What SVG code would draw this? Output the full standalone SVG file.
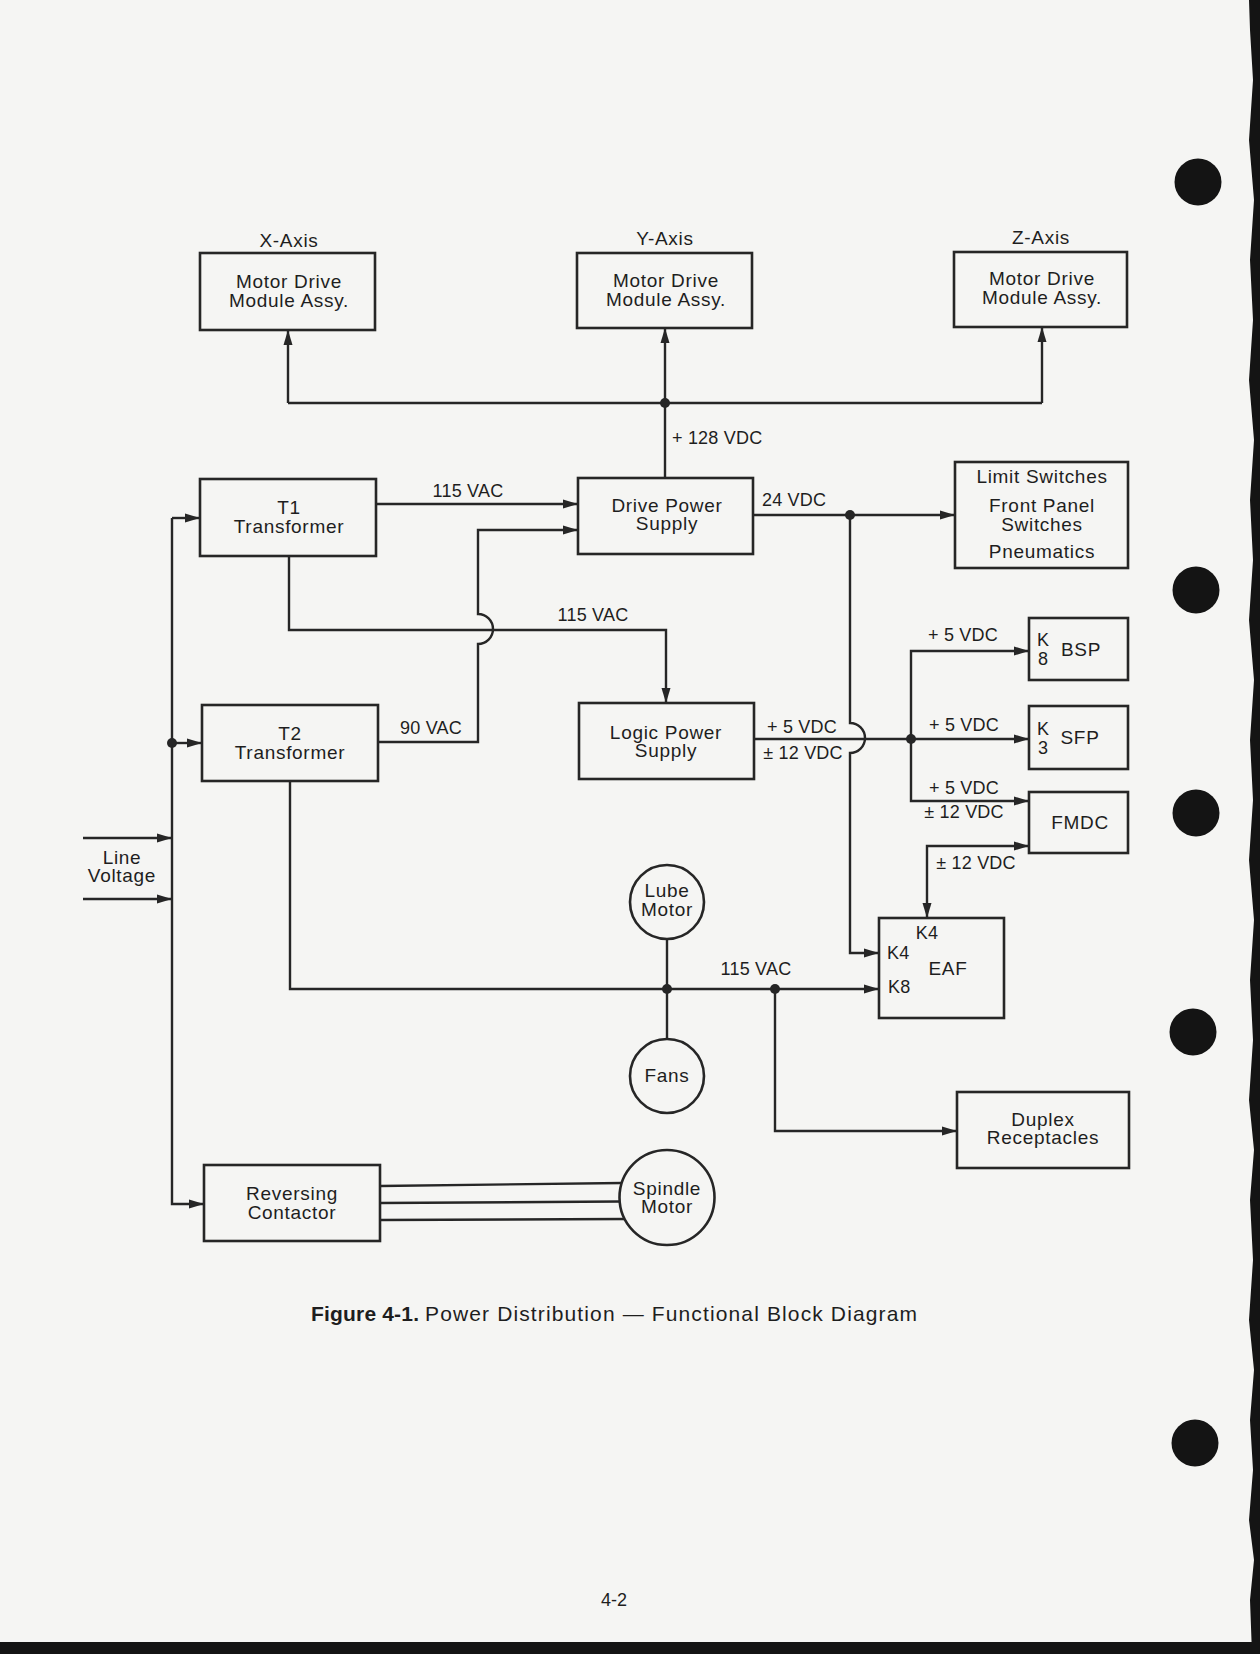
<svg xmlns="http://www.w3.org/2000/svg" width="1260" height="1654" viewBox="0 0 1260 1654">
<style>
.box{fill:none;stroke:#262626;stroke-width:2.6}
.ln{fill:none;stroke:#262626;stroke-width:2.4}
.dot{fill:#262626}
text{font-family:"Liberation Sans",Arial,Helvetica,sans-serif;fill:#1e1e1e}
.t{font-size:19px;letter-spacing:0.7px;text-anchor:middle}
.l{font-size:18px;letter-spacing:0.2px;text-anchor:middle}
.ls{font-size:18px;letter-spacing:0.2px}
.hole{fill:#141414}
</style>
<defs>
<marker id="ah" markerUnits="userSpaceOnUse" markerWidth="16" markerHeight="10" refX="15" refY="5" orient="auto-start-reverse" viewBox="0 0 16 10">
<path d="M0,0.5 L15,5 L0,9.5 z" fill="#262626"/>
</marker>
</defs>
<rect x="0" y="0" width="1260" height="1654" fill="#f5f5f3"/>
<g id="page-edge">
<path class="hole" d="M1249,0 L1260,0 L1260,1654 L1252,1654 L1250,1600 L1254,1560 L1249,1520 L1253,1470 L1250,1420 L1254,1370 L1249,1320 L1253,1260 L1250,1200 L1254,1150 L1249,1100 L1253,1040 L1250,980 L1254,920 L1249,860 L1253,800 L1250,740 L1254,680 L1249,620 L1253,560 L1250,500 L1254,440 L1249,380 L1253,320 L1250,260 L1254,200 L1249,140 L1253,80 L1250,30 z"/>
<rect x="0" y="1642" width="1260" height="12" fill="#141414"/>
<circle class="hole" cx="1198" cy="182" r="23.5"/>
<circle class="hole" cx="1196" cy="590" r="23.5"/>
<circle class="hole" cx="1196" cy="813" r="23.5"/>
<circle class="hole" cx="1193" cy="1032" r="23.5"/>
<circle class="hole" cx="1195" cy="1443" r="23.5"/>
</g>
<g id="connectors">
<path class="ln" d="M288,403 V330" marker-end="url(#ah)"/>
<path class="ln" d="M288,403 H1042"/>
<path class="ln" d="M1042,403 V327" marker-end="url(#ah)"/>
<path class="ln" d="M665,478 V328" marker-end="url(#ah)"/>
<circle class="dot" cx="665" cy="403" r="5"/>
<path class="ln" d="M376,504 H578" marker-end="url(#ah)"/>
<path class="ln" d="M378,742 H478 V644 A15,15 0 0 0 478,614 V530 H578" marker-end="url(#ah)"/>
<path class="ln" d="M289,556 V630 H666 V703" marker-end="url(#ah)"/>
<path class="ln" d="M753,515 H955" marker-end="url(#ah)"/>
<path class="ln" d="M850,515 V723 A15,15 0 0 1 850,753 V953 H879" marker-end="url(#ah)"/>
<circle class="dot" cx="850" cy="515" r="5"/>
<path class="ln" d="M754,739 H1029" marker-end="url(#ah)"/>
<path class="ln" d="M911,739 V651 H1029" marker-end="url(#ah)"/>
<path class="ln" d="M911,739 V801 H1029" marker-end="url(#ah)"/>
<circle class="dot" cx="911" cy="739" r="5"/>
<path class="ln" d="M927,918 V846 H1029" marker-start="url(#ah)" marker-end="url(#ah)"/>
<path class="ln" d="M172,518 H200" marker-end="url(#ah)"/>
<path class="ln" d="M172,518 V1204 H204" marker-end="url(#ah)"/>
<path class="ln" d="M172,743 H202" marker-end="url(#ah)"/>
<circle class="dot" cx="172" cy="743" r="5"/>
<path class="ln" d="M83,838 H172" marker-end="url(#ah)"/>
<path class="ln" d="M83,899 H172" marker-end="url(#ah)"/>
<path class="ln" d="M290,781 V989 H879" marker-end="url(#ah)"/>
<circle class="dot" cx="667" cy="989" r="5"/>
<circle class="dot" cx="775" cy="989" r="5"/>
<path class="ln" d="M667,939 V1039"/>
<path class="ln" d="M775,989 V1131 H957" marker-end="url(#ah)"/>
<path class="ln" d="M380,1186 L622,1183"/>
<path class="ln" d="M380,1203 L620,1201.5"/>
<path class="ln" d="M380,1220 L625,1219"/>
<text class="ls" x="672" y="444">+ 128 VDC</text>
<text class="l" x="468" y="497">115 VAC</text>
<text class="l" x="593" y="621">115 VAC</text>
<text class="l" x="431" y="734">90 VAC</text>
<text class="ls" x="762" y="506">24 VDC</text>
<text class="l" x="802" y="733">+ 5 VDC</text>
<text class="l" x="803" y="759">± 12 VDC</text>
<text class="l" x="963" y="641">+ 5 VDC</text>
<text class="l" x="964" y="731">+ 5 VDC</text>
<text class="l" x="964" y="794">+ 5 VDC</text>
<text class="l" x="964" y="818">± 12 VDC</text>
<text class="l" x="976" y="869">± 12 VDC</text>
<text class="l" x="756" y="975">115 VAC</text>
</g>
<g id="x-axis">
<text class="t" x="289" y="247">X-Axis</text>
<rect class="box" x="200" y="253" width="175" height="77"/>
<text class="t" x="289" y="288">Motor Drive</text>
<text class="t" x="289" y="307">Module Assy.</text>
</g>
<g id="y-axis">
<text class="t" x="665" y="245">Y-Axis</text>
<rect class="box" x="577" y="253" width="175" height="75"/>
<text class="t" x="666" y="287">Motor Drive</text>
<text class="t" x="666" y="306">Module Assy.</text>
</g>
<g id="z-axis">
<text class="t" x="1041" y="244">Z-Axis</text>
<rect class="box" x="954" y="252" width="173" height="75"/>
<text class="t" x="1042" y="285">Motor Drive</text>
<text class="t" x="1042" y="304">Module Assy.</text>
</g>
<g id="t1">
<rect class="box" x="200" y="479" width="176" height="77"/>
<text class="t" x="289" y="514">T1</text>
<text class="t" x="289" y="533">Transformer</text>
</g>
<g id="t2">
<rect class="box" x="202" y="705" width="176" height="76"/>
<text class="t" x="290" y="740">T2</text>
<text class="t" x="290" y="759">Transformer</text>
</g>
<g id="drive-power-supply">
<rect class="box" x="578" y="478" width="175" height="76"/>
<text class="t" x="667" y="512">Drive Power</text>
<text class="t" x="667" y="530">Supply</text>
</g>
<g id="logic-power-supply">
<rect class="box" x="579" y="703" width="175" height="76"/>
<text class="t" x="666" y="739">Logic Power</text>
<text class="t" x="666" y="757">Supply</text>
</g>
<g id="limit-switches">
<rect class="box" x="955" y="462" width="173" height="106"/>
<text class="t" x="1042" y="483">Limit Switches</text>
<text class="t" x="1042" y="512">Front Panel</text>
<text class="t" x="1042" y="531">Switches</text>
<text class="t" x="1042" y="558">Pneumatics</text>
</g>
<g id="bsp">
<rect class="box" x="1029" y="618" width="99" height="62"/>
<text class="l" x="1043" y="646">K</text>
<text class="l" x="1043" y="665">8</text>
<text class="t" x="1081" y="656">BSP</text>
</g>
<g id="sfp">
<rect class="box" x="1029" y="706" width="99" height="63"/>
<text class="l" x="1043" y="735">K</text>
<text class="l" x="1043" y="754">3</text>
<text class="t" x="1080" y="744">SFP</text>
</g>
<g id="fmdc">
<rect class="box" x="1029" y="792" width="99" height="61"/>
<text class="t" x="1080" y="829">FMDC</text>
</g>
<g id="eaf">
<rect class="box" x="879" y="918" width="125" height="100"/>
<text class="l" x="927" y="939">K4</text>
<text class="ls" x="887" y="959">K4</text>
<text class="t" x="948" y="975">EAF</text>
<text class="ls" x="888" y="993">K8</text>
</g>
<g id="duplex-receptacles">
<rect class="box" x="957" y="1092" width="172" height="76"/>
<text class="t" x="1043" y="1126">Duplex</text>
<text class="t" x="1043" y="1144">Receptacles</text>
</g>
<g id="reversing-contactor">
<rect class="box" x="204" y="1165" width="176" height="76"/>
<text class="t" x="292" y="1200">Reversing</text>
<text class="t" x="292" y="1219">Contactor</text>
</g>
<g id="lube-motor">
<circle class="box" cx="667" cy="902" r="37"/>
<text class="t" x="667" y="897">Lube</text>
<text class="t" x="667" y="916">Motor</text>
</g>
<g id="fans">
<circle class="box" cx="667" cy="1076" r="37"/>
<text class="t" x="667" y="1082">Fans</text>
</g>
<g id="spindle-motor">
<circle class="box" cx="667" cy="1197.5" r="47.5"/>
<text class="t" x="667" y="1195">Spindle</text>
<text class="t" x="667" y="1213">Motor</text>
</g>
<g id="line-voltage">
<text class="t" x="122" y="864">Line</text>
<text class="t" x="122" y="882">Voltage</text>
</g>
<g id="caption">
<text x="311" y="1321" font-size="21" font-weight="bold" textLength="108" lengthAdjust="spacing">Figure 4-1.</text>
<text x="425" y="1321" font-size="21" textLength="492" lengthAdjust="spacing">Power Distribution — Functional Block Diagram</text>
<text x="614" y="1606" font-size="18" text-anchor="middle">4-2</text>
</g>
</svg>
